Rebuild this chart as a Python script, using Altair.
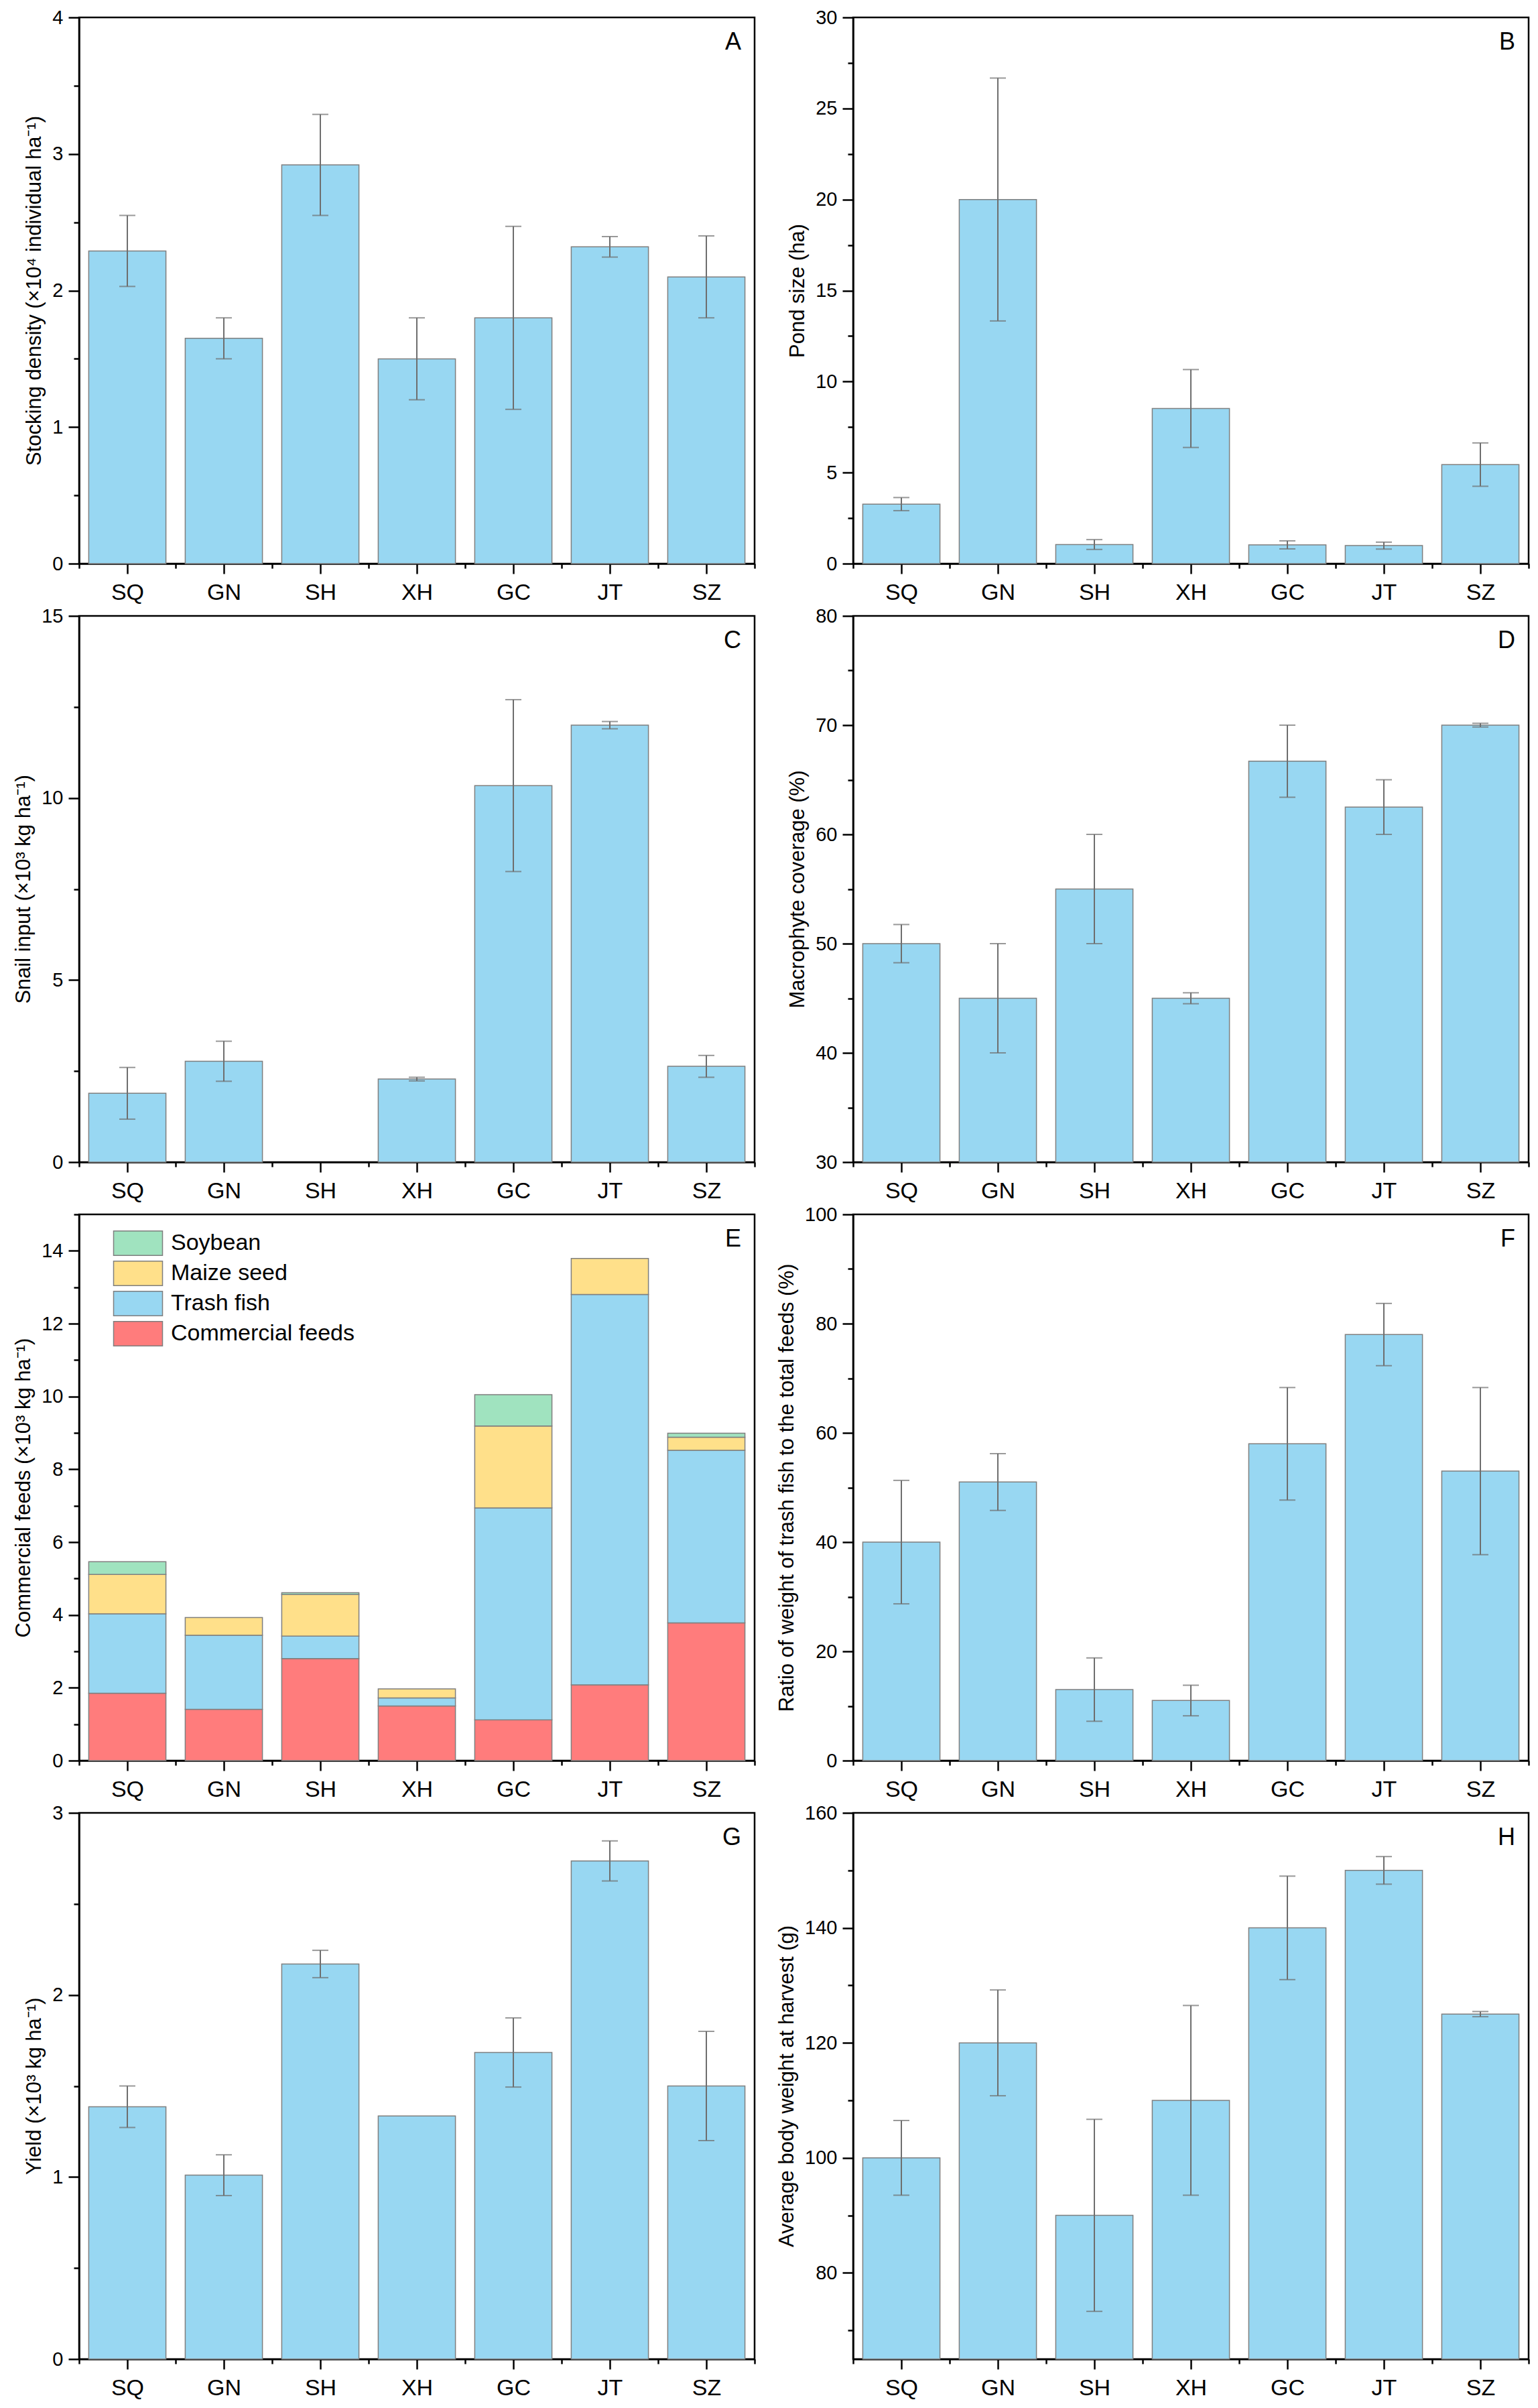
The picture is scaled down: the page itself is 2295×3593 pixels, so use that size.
import json
import altair as alt
import pandas as pd

# ---------------- data ----------------
sites = ["SQ", "GN", "SH", "XH", "GC", "JT", "SZ"]

stock_mean = [2.29, 1.65, 2.92, 1.50, 1.80, 2.32, 2.10]
stock_err = [0.26, 0.15, 0.37, 0.30, 0.67, 0.075, 0.30]

pond_mean = [3.27, 20.0, 1.05, 8.52, 1.03, 0.99, 5.44]
pond_err = [0.36, 6.67, 0.27, 2.14, 0.22, 0.19, 1.19]

snail_mean = [1.89, 2.77, 0.0, 2.28, 10.34, 12.0, 2.63]
snail_err = [0.71, 0.55, 0.0, 0.05, 2.36, 0.10, 0.30]

macro_mean = [50.0, 45.0, 55.0, 45.0, 66.7, 62.5, 70.0]
macro_err = [1.75, 5.0, 5.0, 0.5, 3.3, 2.5, 0.17]

feed_commercial = [1.85, 1.41, 2.80, 1.50, 1.12, 2.08, 3.78]
feed_trash = [2.18, 2.03, 0.62, 0.22, 5.82, 10.72, 4.74]
feed_maize = [1.08, 0.49, 1.14, 0.25, 2.25, 0.99, 0.36]
feed_soy = [0.35, 0.0, 0.05, 0.0, 0.86, 0.0, 0.11]
feed_names = ["Soybean", "Maize seed", "Trash fish", "Commercial feeds"]

ratio_mean = [40.0, 51.0, 13.0, 11.0, 58.0, 78.0, 53.0]
ratio_err = [11.3, 5.2, 5.8, 2.8, 10.3, 5.7, 15.3]

yield_mean = [1.386, 1.01, 2.17, 1.335, 1.684, 2.736, 1.50]
yield_err = [0.114, 0.112, 0.075, 0.0, 0.19, 0.11, 0.30]

weight_mean = [100.0, 120.0, 90.0, 110.0, 140.0, 150.0, 125.0]
weight_err = [6.5, 9.2, 16.7, 16.5, 9.0, 2.4, 0.45]

# axis ticks: (domain, major step, minor step)
ticks_A = ([0, 4], 1, 0.5)
ticks_B = ([0, 30], 5, 2.5)
ticks_C = ([0, 15], 5, 2.5)
ticks_D = ([30, 80], 10, 5)
ticks_E = ([0, 15], 2, 1)
ticks_F = ([0, 100], 20, 10)
ticks_G = ([0, 3], 1, 0.5)
ticks_H = ([65, 160], 20, 10)

# ---------------- style ----------------
W, H = 1008, 815
BLUE = "#98D7F2"
RED = "#FF7C7C"
MAIZE = "#FFE08A"
SOY = "#A0E3BF"
EDGE = "#7F7F7F"
ERR = "#6E6E6E"
FONT = "Liberation Sans"

xvals = [i * 0.5 - 0.5 for i in range(2 * len(sites) + 1)]
site_js = json.dumps(sites)

x_scale = alt.Scale(domain=[-0.5, len(sites) - 0.5], nice=False, zero=False)
x_axis = alt.Axis(
    values=xvals,
    labelExpr=f"datum.value % 1 === 0 ? {site_js}[datum.value] : ''",
    tickSize={"condition": {"test": "datum.value % 1 === 0", "value": 15}, "value": 7},
    labelPadding=11,
    labelFontSize=34,
    labelOverlap=False,
    labelFlush=False,
    grid=False,
    title=None,
)


def y_axis(ticks, title):
    dom, major, minor = ticks
    start = dom[0] if dom[0] % minor == 0 else (dom[0] // minor + 1) * minor
    vals = []
    v = start
    while v <= dom[1] + 1e-9:
        vals.append(round(v, 4))
        v += minor
    test = f"abs(datum.value % {major}) < 1e-6"
    return alt.Axis(
        values=vals,
        labelExpr=f"{test} ? format(datum.value, 'd') : ''",
        tickSize={"condition": {"test": test, "value": 16}, "value": 8},
        labelPadding=8,
        labelFontSize=29,
        labelOverlap=False,
        labelFlush=False,
        grid=False,
        title=title,
        titleFontSize=31,
        titleFontWeight="normal",
        titlePadding=10,
    )


def letter_layer(letter):
    return alt.Chart(pd.DataFrame({"t": [letter]})).mark_text(
        align="right", baseline="top", fontSize=36, font=FONT, color="black"
    ).encode(text="t:N", x=alt.value(W - 20), y=alt.value(20))


def bar_panel(letter, mean, err, ticks, title):
    dom = ticks[0]
    df = pd.DataFrame({"site": sites, "idx": list(range(len(sites))), "mean": mean, "err": err})
    df["x1"] = df["idx"] - 0.4
    df["x2"] = df["idx"] + 0.4
    df["base"] = dom[0]
    df["lo"] = df["mean"] - df["err"]
    df["hi"] = df["mean"] + df["err"]
    y_scale = alt.Scale(domain=dom, nice=False, zero=False)
    bars = alt.Chart(df[df["mean"] > dom[0]]).mark_bar(fill=BLUE, stroke=EDGE, strokeWidth=1.5).encode(
        x=alt.X("x1:Q", scale=x_scale, axis=x_axis),
        x2="x2:Q",
        y=alt.Y("mean:Q", scale=y_scale, axis=y_axis(ticks, title)),
        y2="base:Q",
    )
    edf = df[df["err"] > 0]
    rule = alt.Chart(edf).mark_rule(color=ERR, strokeWidth=2).encode(
        x="idx:Q", y="lo:Q", y2="hi:Q"
    )
    cap_lo = alt.Chart(edf).mark_tick(color=ERR, orient="horizontal", size=24, thickness=2).encode(
        x="idx:Q", y="lo:Q"
    )
    cap_hi = alt.Chart(edf).mark_tick(color=ERR, orient="horizontal", size=24, thickness=2).encode(
        x="idx:Q", y="hi:Q"
    )
    return alt.layer(bars, rule, cap_lo, cap_hi, letter_layer(letter)).properties(width=W, height=H)


def stacked_panel(letter, ticks, title):
    dom = ticks[0]
    rows = []
    comps = [("Commercial feeds", feed_commercial), ("Trash fish", feed_trash),
             ("Maize seed", feed_maize), ("Soybean", feed_soy)]
    for i, s in enumerate(sites):
        acc = 0.0
        for name, vals in comps:
            v = vals[i]
            if v > 0:
                rows.append({"site": s, "x1": i - 0.4, "x2": i + 0.4, "feed": name,
                             "lo": acc, "hi": acc + v})
            acc += v
    df = pd.DataFrame(rows)
    y_scale = alt.Scale(domain=dom, nice=False, zero=False)
    bars = alt.Chart(df).mark_bar(stroke=EDGE, strokeWidth=1.5, opacity=1).encode(
        x=alt.X("x1:Q", scale=x_scale, axis=x_axis),
        x2="x2:Q",
        y=alt.Y("lo:Q", scale=y_scale, axis=y_axis(ticks, title)),
        y2="hi:Q",
        color=alt.Color(
            "feed:N",
            scale=alt.Scale(domain=feed_names, range=[SOY, MAIZE, BLUE, RED]),
            legend=alt.Legend(
                title=None,
                orient="none",
                legendX=69,
                legendY=24,
                symbolType="M-2,-1H2V1H-2Z",
                symbolSize=1332,
                symbolStrokeColor=EDGE,
                symbolStrokeWidth=1.5,
                symbolOpacity=1,
                labelFontSize=34,
                labelFont=FONT,
                labelColor="black",
                labelOffset=30,
                labelLimit=0,
                rowPadding=1,
                padding=0,
            ),
        ),
    )
    return alt.layer(bars, letter_layer(letter)).properties(width=W, height=H)


pA = bar_panel("A", stock_mean, stock_err, ticks_A, "Stocking density (×10⁴ individual ha⁻¹)")
pB = bar_panel("B", pond_mean, pond_err, ticks_B, "Pond size (ha)")
pC = bar_panel("C", snail_mean, snail_err, ticks_C, "Snail input (×10³ kg ha⁻¹)")
pD = bar_panel("D", macro_mean, macro_err, ticks_D, "Macrophyte coverage (%)")
pE = stacked_panel("E", ticks_E, "Commercial feeds (×10³ kg ha⁻¹)")
pF = bar_panel("F", ratio_mean, ratio_err, ticks_F, "Ratio of weight of trash fish to the total feeds (%)")
pG = bar_panel("G", yield_mean, yield_err, ticks_G, "Yield (×10³ kg ha⁻¹)")
pH = bar_panel("H", weight_mean, weight_err, ticks_H, "Average body weight at harvest (g)")

chart = alt.concat(
    pA, pB, pC, pD, pE, pF, pG, pH, columns=2, spacing={"row": 0, "column": 28}
).resolve_legend(
    color="independent"
).resolve_scale(
    color="independent"
).properties(
    padding={"left": 10, "top": 2, "right": 2, "bottom": 2}
).configure(
    font=FONT
).configure_view(
    stroke="black", strokeWidth=2.5
).configure_axis(
    domainColor="black", domainWidth=2.5, tickColor="black", tickWidth=2.5,
    labelColor="black", titleColor="black", labelFont=FONT, titleFont=FONT
)

chart.save("out.html", embed_options={"renderer": "svg", "actions": False})
